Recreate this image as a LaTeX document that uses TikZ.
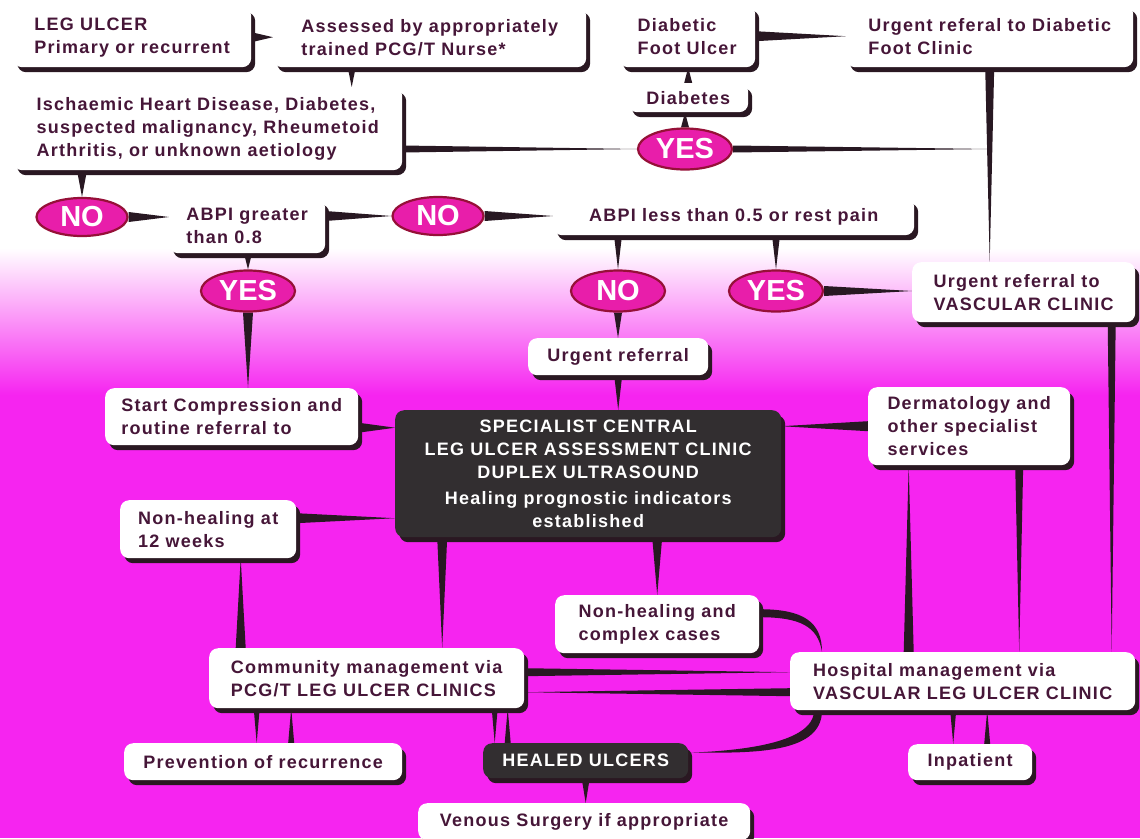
\documentclass[tikz,border=0pt]{standalone}
\usepackage{fontspec}
\setmainfont{Liberation Sans}
\newfontfamily\cardface[LetterSpace=7]{Liberation Sans}
\usetikzlibrary{calc,shapes.geometric,shadows}
\definecolor{magbg}{RGB}{246,36,240}
\definecolor{pinkfill}{RGB}{232,30,170}
\definecolor{rim}{RGB}{150,16,56}
\definecolor{ink}{RGB}{70,22,56}
\definecolor{shade}{RGB}{42,24,34}
\definecolor{slab}{RGB}{50,46,48}
\definecolor{wirec}{RGB}{40,24,34}
\pgfdeclarelayer{back}
\pgfdeclarelayer{wires}
\pgfsetlayers{back,wires,main}
\newcommand\wedgeline[3][4pt]{\fill[wire] ($(#2)!#1!90:(#3)$) -- (#3) -- ($(#2)!#1!-90:(#3)$) -- cycle;}
\begin{document}
\begin{tikzpicture}[x=1pt,y=-1pt,
    card/.style={rectangle, rounded corners=9pt, fill=white, text=ink, anchor=north west,
      font=\cardface\bfseries\fontsize{18}{23}\selectfont, align=left, inner xsep=8pt, inner ysep=0pt,
      drop shadow={shadow xshift=4pt, shadow yshift=-5pt, fill=shade, opacity=1}},
    slabcard/.style={card, fill=slab, text=white, align=center},
    pill/.style={ellipse, fill=pinkfill, draw=rim, line width=2.2pt, text=white, inner sep=0pt,
      font=\bfseries\fontsize{29}{29}\selectfont, minimum width=94pt, minimum height=41pt},
    wire/.style={fill=wirec}]
  \useasboundingbox (0,0) rectangle (1140,838);
  \begin{pgfonlayer}{back}
    \fill[magbg] (0,0) rectangle (1140,838);
    \shade[top color=white, bottom color=magbg] (0,248) rectangle (1140,395);
    \fill[white] (0,0) rectangle (1140,249);
  \end{pgfonlayer}

  \node[card, minimum width=238pt, minimum height=60pt] (leg) at (13,7) {LEG ULCER\\Primary or recurrent};
  \node[card, minimum width=313pt, minimum height=60pt] (assess) at (273,7) {Assessed by appropriately\\trained PCG/T Nurse*};
  \node[card, minimum width=136pt, minimum height=62pt] (dfu) at (619,5) {Diabetic\\Foot Ulcer};
  \node[card, minimum width=287pt, minimum height=62pt] (udfc) at (846,5) {Urgent referal to Diabetic\\Foot Clinic};
  \node[card, minimum width=120pt, minimum height=29pt] (diab) at (628,83) {Diabetes};
  \node[card, minimum width=389pt, minimum height=83pt] (isch) at (13,87) {Ischaemic Heart Disease, Diabetes,\\suspected malignancy, Rheumetoid\\Arthritis, or unknown aetiology};
  \node[card, minimum width=156pt, minimum height=54pt] (abpig) at (169,199) {ABPI greater\\than 0.8};
  \node[card, minimum width=361pt, minimum height=37pt] (abpil) at (553,198) {ABPI less than 0.5 or rest pain};
  \node[card, minimum width=223pt, minimum height=60pt] (uvc) at (912,262) {Urgent referral to\\VASCULAR CLINIC};
  \node[card, minimum width=180pt, minimum height=37pt] (urg) at (528,338) {Urgent referral};
  \node[slabcard, minimum width=386pt, minimum height=127pt] (spec) at (395,410) {SPECIALIST CENTRAL\\LEG ULCER ASSESSMENT CLINIC\\DUPLEX ULTRASOUND\\[3pt]Healing prognostic indicators\\established};
  \node[card, minimum width=253pt, minimum height=57pt] (start) at (105,388) {Start Compression and\\routine referral to};
  \node[card, minimum width=176pt, minimum height=58pt] (nh12) at (120,500) {Non-healing at\\12 weeks};
  \node[card, minimum width=202pt, minimum height=78pt] (derm) at (868,387) {Dermatology and\\other specialist\\services};
  \node[card, minimum width=204pt, minimum height=58pt] (nhc) at (555,595) {Non-healing and\\complex cases};
  \node[card, minimum width=315pt, minimum height=60pt] (comm) at (209,648) {Community management via\\PCG/T LEG ULCER CLINICS};
  \node[card, minimum width=345pt, minimum height=58pt] (hosp) at (790,652) {Hospital management via\\VASCULAR LEG ULCER CLINIC};
  \node[card, minimum width=278pt, minimum height=37pt] (prev) at (124,743) {Prevention of recurrence};
  \node[slabcard, minimum width=205pt, minimum height=35pt] (healed) at (483,743) {HEALED ULCERS};
  \node[card, minimum width=332pt, minimum height=37pt] (venous) at (418,803) {Venous Surgery if appropriate};
  \node[card, minimum width=124pt, minimum height=36pt] (inpat) at (908,744) {Inpatient};

  \node[pill] (yest) at (685,149) {YES};
  \node[pill, minimum width=91pt, minimum height=38pt] (nol) at (82,217) {NO};
  \node[pill, minimum width=91pt, minimum height=38pt] (nom) at (438,216) {NO};
  \node[pill] (yesl) at (248,291) {YES};
  \node[pill] (nor) at (618,291) {NO};
  \node[pill] (yesr) at (776,291) {YES};

  \coordinate (a1) at ([xshift=-78pt]assess.south);
  \coordinate (s1) at ([yshift=-11pt]start.east);
  \coordinate (s2) at ([yshift=11pt]nh12.east);
  \coordinate (s3) at ([xshift=-146pt]spec.south);
  \coordinate (s4) at ([xshift=-126pt]comm.north);
  \coordinate (u1) at ([xshift=88pt]uvc.south);
  \coordinate (h1) at ([xshift=-54pt]hosp.north);
  \coordinate (d1) at ([xshift=50pt]derm.south);
  \coordinate (c1) at ([yshift=6pt]comm.east);
  \coordinate (h2) at ([yshift=-11pt]hosp.west);
  \coordinate (c2) at ([xshift=-110pt]comm.south);
  \coordinate (p1) at ([xshift=28pt]prev.north);
  \coordinate (c3) at ([xshift=128pt]comm.south);
  \coordinate (e1) at ([xshift=-78pt]healed.north);
  \coordinate (h3) at ([xshift=-17pt]inpat.north);
  \coordinate (i1) at ([xshift=17pt]inpat.north);
  \coordinate (k1) at ([yshift=11pt]nhc.east);
  \coordinate (k2) at ([xshift=32pt]hosp.north west);
  \coordinate (m1) at ([xshift=28pt]hosp.south west);
  \coordinate (m2) at ([yshift=8pt]healed.east);

  \begin{pgfonlayer}{wires}
    \wedgeline[5pt]{leg.east}{assess.west}
    \wedgeline{a1}{isch.north -| a1}
    \wedgeline[5pt]{dfu.east}{udfc.west}
    \wedgeline{diab.north}{dfu.south -| diab.north}
    \wedgeline{yest.north}{diab.south -| yest.north}
    \wedgeline[3.5pt]{isch.east |- yest}{yest.west}
    \wedgeline[3.5pt]{yest.east}{udfc.south |- yest}
    \wedgeline[4.5pt]{udfc.south}{uvc.north -| udfc.south}
    \wedgeline[5pt]{isch.south -| nol}{nol.north}
    \wedgeline[5pt]{nol.east}{abpig.west |- nol}
    \wedgeline[5pt]{abpig.east |- nom}{nom.west}
    \wedgeline[5pt]{nom.east}{abpil.west |- nom}
    \wedgeline{abpig.south -| yesl}{yesl.north}
    \wedgeline{abpil.south -| nor}{nor.north}
    \wedgeline{abpil.south -| yesr}{yesr.north}
    \wedgeline[5pt]{yesr.east}{uvc.west |- yesr}
    \wedgeline{nor.south}{urg.north -| nor}
    \wedgeline{urg.south}{spec.north -| urg}
    \wedgeline[5pt]{yesl.south}{start.north -| yesl}
    \wedgeline[5pt]{s1}{spec.west |- s1}
    \wedgeline[5pt]{s2}{spec.west |- s2}
    \wedgeline[5pt]{derm.west}{spec.east |- derm.west}
    \wedgeline[5pt]{spec.south -| nhc}{nhc.north}
    \wedgeline[5pt]{s3}{comm.north -| s3}
    \wedgeline[5pt]{s4}{nh12.south -| s4}
    \wedgeline[4pt]{u1}{hosp.north -| u1}
    \wedgeline[5pt]{h1}{derm.south -| h1}
    \wedgeline[4pt]{d1}{hosp.north -| d1}
    \wedgeline[4pt]{c1}{hosp.west |- c1}
    \wedgeline[4pt]{h2}{comm.east |- h2}
    \wedgeline[3pt]{c2}{prev.north -| c2}
    \wedgeline[3pt]{p1}{comm.south -| p1}
    \wedgeline[3pt]{c3}{healed.north -| c3}
    \wedgeline[3pt]{e1}{comm.south -| e1}
    \wedgeline{healed.south}{venous.north -| healed.south}
    \wedgeline[3pt]{hosp.south -| h3}{h3}
    \wedgeline[3pt]{i1}{hosp.south -| i1}
    \fill[wire] ([yshift=4pt]k1) .. controls +(44,0) and +(0,-30) .. (k2)
      .. controls +(-4,-26) and +(40,0) .. ([yshift=-4pt]k1) -- cycle;
    \fill[wire] ([xshift=4pt]m1) .. controls +(0,45) and +(60,0) .. (m2)
      .. controls +(56,-2) and +(0,32) .. ([xshift=-4pt]m1) -- cycle;
  \end{pgfonlayer}
\end{tikzpicture}
\end{document}
